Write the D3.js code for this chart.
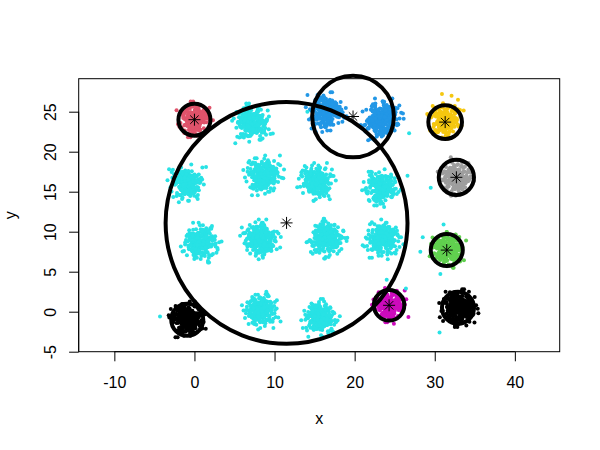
<!DOCTYPE html>
<html><head><meta charset="utf-8">
<script src="https://cdn.jsdelivr.net/npm/d3@7"></script>
<style>body{margin:0;background:#fff}svg{display:block;font-family:"Liberation Sans",Arial,Helvetica,sans-serif}</style>
</head><body><svg id="c" width="600" height="450"></svg>
<script>
// ---------- data ----------
const xTicks = [-10, 0, 10, 20, 30, 40];
const yTicks = [-5, 0, 5, 10, 15, 20, 25];

// hand-read cluster blobs (centre, spread, count, pattern shift)
const clusterGroup = ["black","black","red","green","blue","blue",
  "cyan","cyan","cyan","cyan","cyan","cyan","cyan","cyan","cyan","cyan","cyan",
  "magenta","yellow","gray"];
const clusterX  = [-0.9, 33.0, 0.0, 31.6, 16.4, 23.4, 7.2, -1.0, 8.6, 15.2, 23.3, 0.8, 8.2, 16.5, 23.5, 8.3, 15.7, 24.4, 31.3, 32.6];
const clusterY  = [-1.0, 0.4, 24.0, 7.7, 24.9, 24.0, 23.5, 16.0, 17.0, 16.2, 15.4, 8.6, 9.0, 9.1, 9.0, 0.1, -0.8, 0.7, 23.8, 16.7];
const clusterSd = [0.85, 0.9, 0.85, 0.85, 0.95, 1.0, 0.95, 0.9, 0.95, 0.9, 0.9, 0.95, 0.95, 0.95, 0.95, 0.9, 0.9, 0.85, 0.85, 0.85];
const clusterN  = [320, 320, 230, 230, 260, 280, 250, 240, 260, 250, 250, 250, 260, 260, 250, 240, 240, 230, 230, 230];
const clusterShift = [0, 17, 33, 51, 8, 71, 95, 120, 44, 13, 137, 62, 88, 29, 104, 151, 76, 5, 112, 57];

// hand-typed scatter pattern (standardised offsets)
const spreadX = [
0.12,-0.53,1.21,-0.88,0.35,-1.42,0.77,0.04,-0.26,1.65,
-0.71,0.49,-1.05,0.18,0.93,-0.37,-1.88,0.61,1.12,-0.15,
0.28,-0.62,2.05,-0.94,0.41,-0.08,1.37,-1.23,0.67,-0.45,
0.86,-1.59,0.22,0.54,-0.79,1.48,-0.31,-2.21,0.09,1.02,
-0.57,0.73,-1.14,0.36,-0.19,1.83,-0.84,0.27,-1.36,0.58,
0.14,-0.69,0.95,-0.41,2.41,-1.01,0.32,-0.24,1.19,-0.52,
0.81,-1.71,0.45,-0.06,1.56,-0.88,0.63,-1.27,0.19,-0.35,
1.08,-0.66,0.38,-1.95,0.71,0.02,-0.48,1.31,-0.92,0.25,
-0.13,0.89,-1.18,0.56,-0.74,1.73,-0.29,0.44,-1.49,0.97,
-0.39,0.16,1.41,-0.83,0.65,-2.63,0.31,-0.11,1.26,-0.59,
0.52,-1.09,0.84,-0.21,2.18,-0.97,0.07,-0.44,1.14,-0.76,
0.39,-1.31,0.69,-0.02,1.62,-0.55,0.23,-1.67,0.91,-0.33,
0.11,0.78,-0.86,1.29,-0.47,0.34,-1.12,0.59,-0.17,1.94,
-0.64,0.47,-1.41,0.15,0.82,-0.28,1.07,-0.99,0.29,-2.07,
0.62,-0.38,1.46,-0.72,0.05,-1.21,0.99,-0.51,0.37,2.72,
-0.81,0.21,-0.09,1.16,-1.53,0.42,-0.67,0.75,-0.23,1.38];
const spreadY = [
-0.41,0.87,0.22,-1.14,1.53,0.08,-0.66,1.19,-1.72,0.35,
0.61,-0.29,1.04,-0.83,-0.12,1.78,0.47,-1.37,0.16,0.94,
-0.58,1.31,-0.07,0.53,-2.11,0.72,-0.35,0.26,-0.97,1.62,
0.39,-0.49,-1.26,0.83,1.11,-0.18,0.67,0.29,-1.58,-0.74,
1.43,-0.21,0.57,0.03,2.24,-0.91,-0.44,1.06,0.31,-1.19,
-0.63,0.19,-1.83,0.76,-0.32,0.48,1.67,-0.05,-0.87,0.99,
0.12,2.02,-0.69,-1.44,0.58,0.27,-0.14,0.84,1.27,-0.39,
-1.03,0.44,-0.26,0.71,-0.53,1.49,-2.37,0.36,0.92,-0.08,
0.65,-0.76,1.36,0.11,-1.29,-0.42,0.79,-0.17,1.85,0.24,
-0.95,0.55,0.04,-0.61,1.15,0.33,-1.66,0.88,-0.28,-1.08,
0.21,1.58,-0.47,0.69,-0.11,-1.51,0.97,0.41,-0.72,2.31,
-0.24,0.13,-1.22,1.01,0.46,-0.82,0.07,1.74,-0.36,-0.59,
1.22,-1.94,0.51,0.18,-0.45,0.86,-0.19,-1.11,1.39,0.62,
-0.33,0.09,-2.58,1.09,-0.68,0.37,1.93,-0.01,-0.79,0.74,
-1.47,0.28,0.81,-0.56,1.24,-0.23,-0.89,0.43,2.66,-1.34,
0.58,-0.13,0.95,-0.71,-1.62,0.15,1.33,-0.48,0.32,-0.04];

// stray points read individually
const strayGroup = ["cyan","cyan","cyan","cyan","cyan","cyan","cyan","cyan","cyan","cyan","cyan","cyan",
  "yellow","yellow","yellow","gray","gray"];
const strayX = [-4.3, 26.8, 26.6, 29.5, 31.1, 28.5, 28.2, 30.7, 26.4, 30.6, 14.1, 24.0, 30.9, 32.1, 32.9, 32.0, 34.2];
const strayY = [-0.6, 22.3, 17.0, 15.5, 10.9, 9.3, 7.5, 4.7, 2.9, -2.6, 25.0, 4.0, 27.2, 27.0, 26.5, 19.3, 18.6];

// cluster circles (centre + radius)
const circleX = [11.5, 19.8, 0.0, 31.3, 32.7, 31.5, 24.3, 32.9, -0.9];
const circleY = [11.1, 24.4, 24.0, 23.7, 16.8, 7.7, 0.8, 0.5, -1.0];
const circleR = [15.1, 5.1, 2.0, 2.1, 2.2, 2.0, 1.9, 2.0, 2.0];

const groupColor = {black:"#000000", red:"#DF536B", green:"#61D04F", blue:"#2297E6",
  cyan:"#28E2E5", magenta:"#CD0BBC", yellow:"#F5C710", gray:"#9E9E9E"};

// ---------- layout ----------
const L = 78.7, R = 559.7, T = 78.7, B = 351.7;
const x = d3.scaleLinear().domain([-14.45, 45.6]).range([L, R]);
const y = d3.scaleLinear().domain([-5, 29.125]).range([B, T]);
const svg = d3.select("#c");
const FS = 16;

// points
const pts = [];
clusterGroup.forEach((g, c) => {
  const n = spreadX.length;
  for (let i = 0; i < clusterN[c]; i++) {
    const pass = Math.floor(i / n), k = i % n;
    const sx = pass % 2 ? -spreadX[k] : spreadX[k];
    pts.push({g, x: clusterX[c] + clusterSd[c] * sx,
                 y: clusterY[c] + clusterSd[c] * spreadY[(k + clusterShift[c] + pass * 47) % n]});
  }
});
strayX.forEach((v, i) => pts.push({g: strayGroup[i], x: v, y: strayY[i]}));

svg.append("g").selectAll("circle").data(pts).join("circle")
  .attr("cx", d => x(d.x)).attr("cy", d => y(d.y)).attr("r", 2)
  .attr("fill", d => groupColor[d.g]);

// cluster circles
const circ = circleX.map((v, i) => ({x: v, y: circleY[i], r: circleR[i]}));
svg.append("g").selectAll("circle").data(circ).join("circle")
  .attr("cx", d => x(d.x)).attr("cy", d => y(d.y))
  .attr("r", d => x(d.x + d.r) - x(d.x))
  .attr("fill", "none").attr("stroke", "#000").attr("stroke-width", 4);

// asterisks
const ast = svg.append("g").attr("stroke", "#000").attr("stroke-width", 1);
circ.forEach(d => {
  const cx = x(d.x), cy = y(d.y), a = 6, b = 4.2;
  ast.append("path").attr("d",
    `M${cx-a},${cy}H${cx+a}M${cx},${cy-a}V${cy+a}` +
    `M${cx-b},${cy-b}L${cx+b},${cy+b}M${cx-b},${cy+b}L${cx+b},${cy-b}`);
});

// box
svg.append("rect").attr("x", L).attr("y", T).attr("width", R - L).attr("height", B - T)
  .attr("fill", "none").attr("stroke", "#000").attr("stroke-width", 1);

// axes
const fmt = d => String(d);
const xa = svg.append("g").attr("transform", `translate(0,${B})`)
  .call(d3.axisBottom(x).tickValues(xTicks).tickSize(9.6).tickPadding(15).tickFormat(fmt));
xa.select(".domain").attr("d", `M${x(xTicks[0])},0H${x(xTicks[xTicks.length-1])}`);
xa.selectAll("text").attr("font-size", FS).attr("font-family", null).attr("fill", "#000");

const ya = svg.append("g").attr("transform", `translate(${L},0)`)
  .call(d3.axisLeft(y).tickValues(yTicks).tickSize(9.6).tickFormat(fmt));
ya.select(".domain").attr("d", `M0,${y(yTicks[0])}V${y(yTicks[yTicks.length-1])}`);
ya.selectAll("text").attr("font-size", FS).attr("font-family", null).attr("fill", "#000")
  .attr("transform", "rotate(-90)").attr("x", 0).attr("y", -22.3).attr("dy", 0)
  .attr("text-anchor", "middle");

// titles
svg.append("text").attr("x", (L + R) / 2).attr("y", 424).attr("text-anchor", "middle")
  .attr("font-size", FS).text("x");
svg.append("text").attr("transform", `translate(16,${(T + B) / 2}) rotate(-90)`)
  .attr("text-anchor", "middle").attr("font-size", FS).text("y");
</script></body></html>
